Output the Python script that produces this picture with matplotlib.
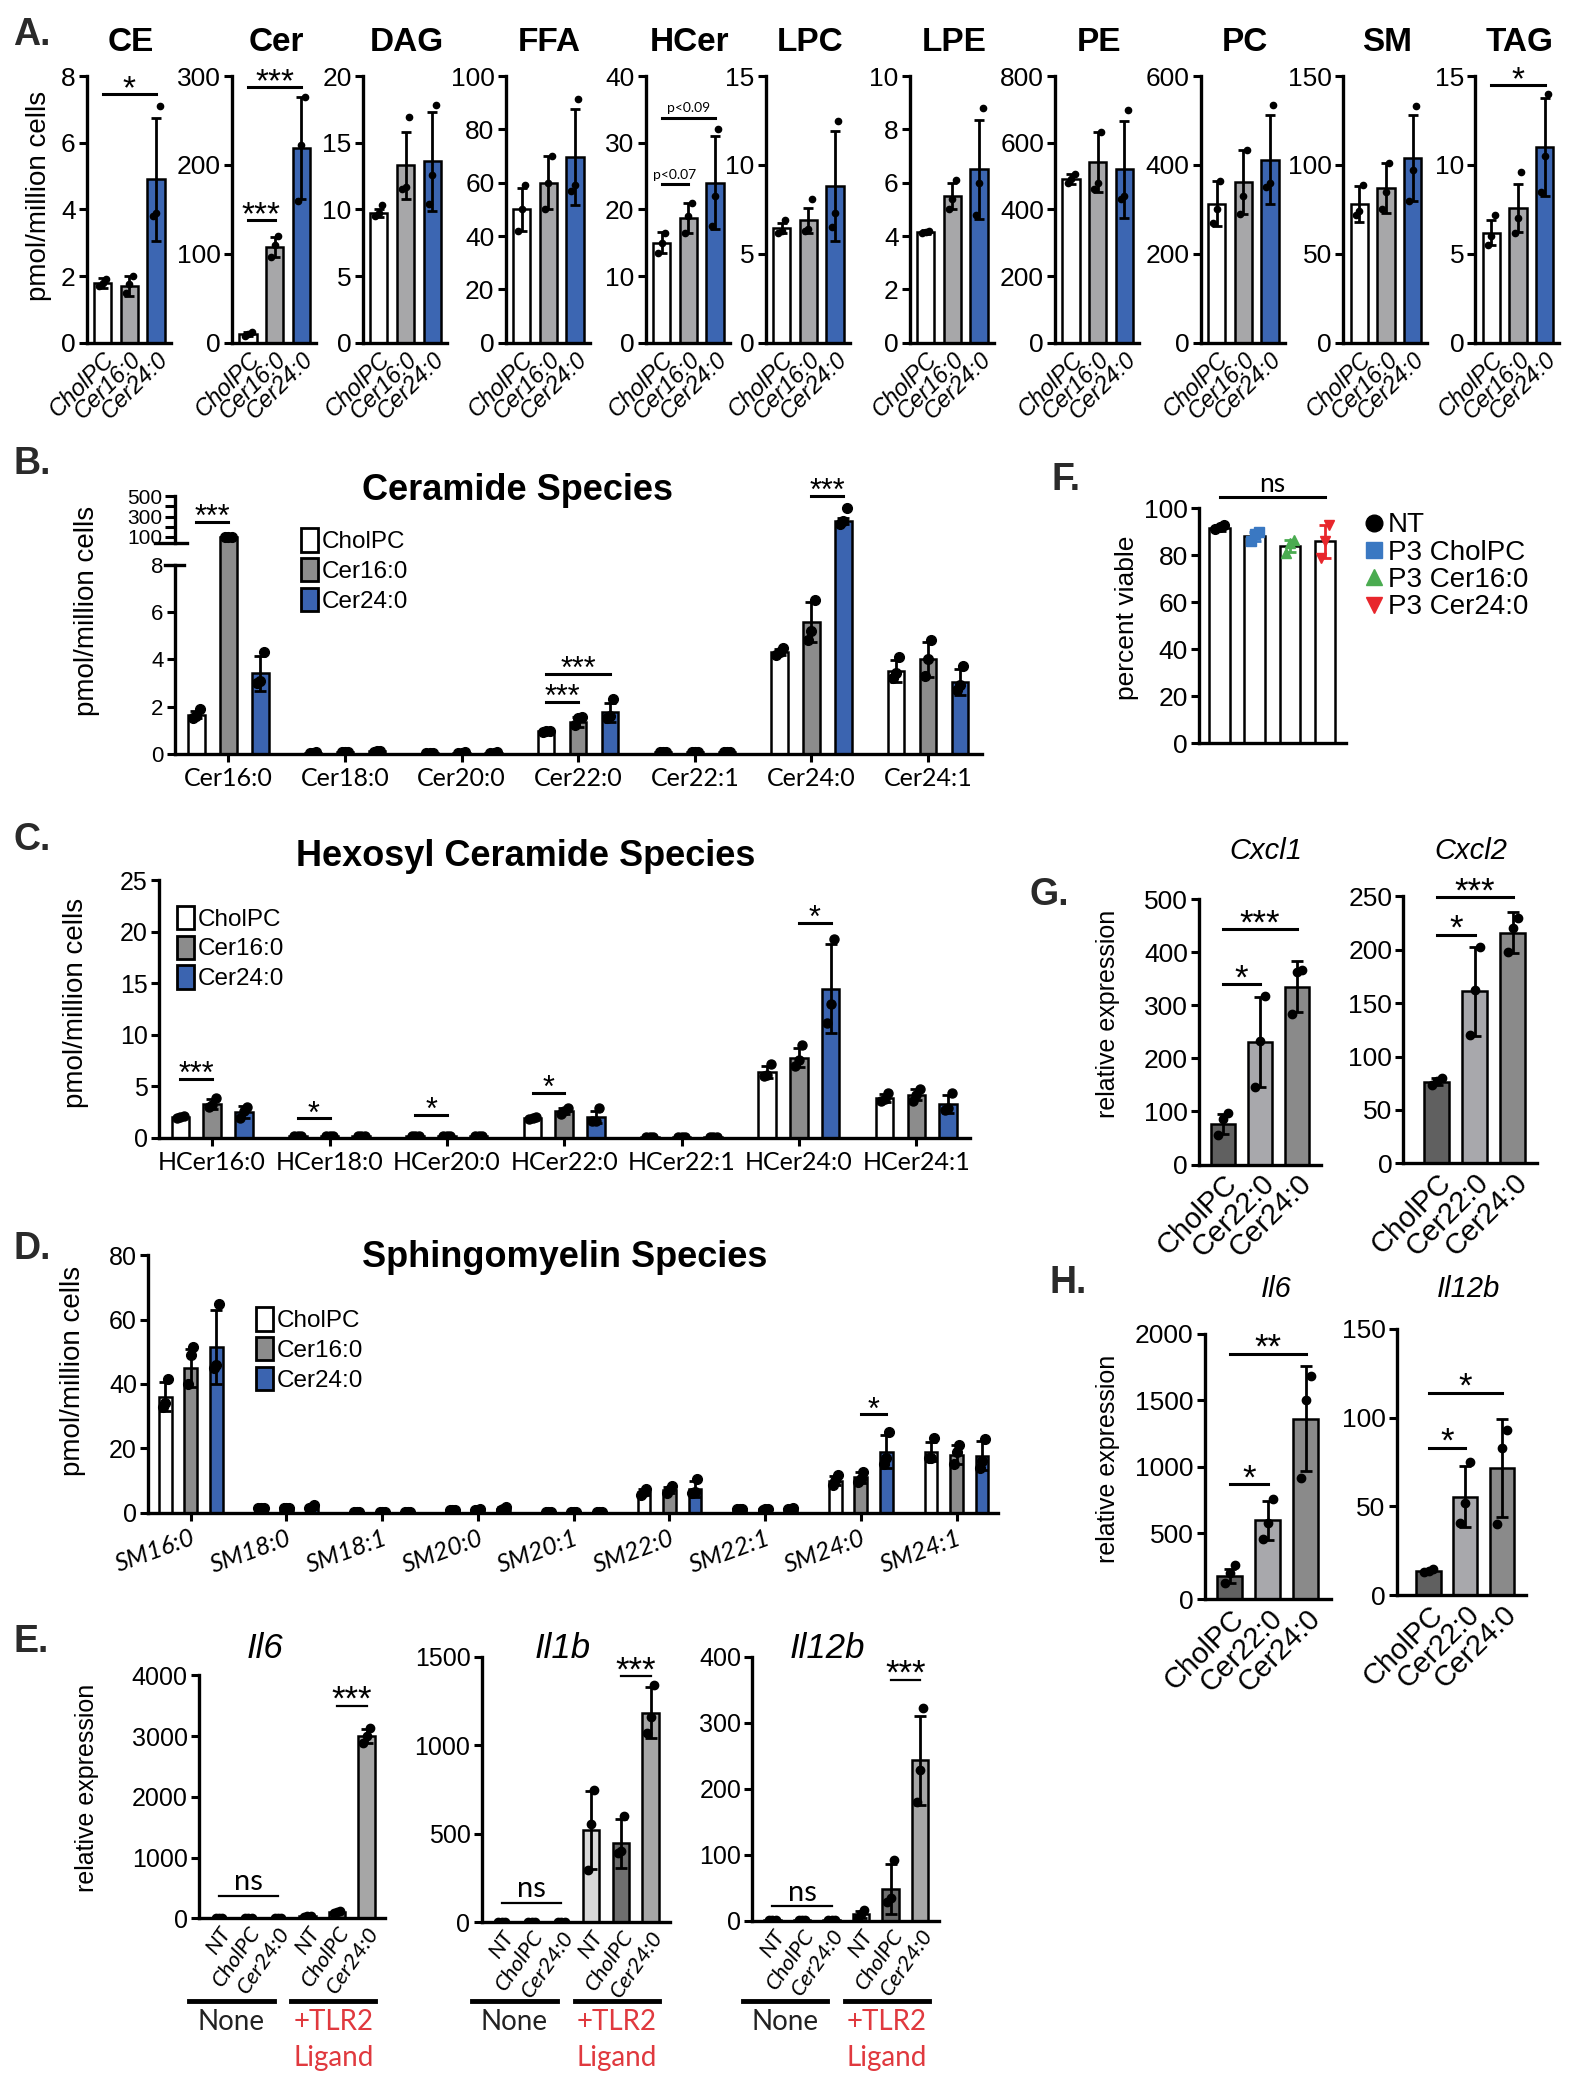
import numpy as np
import matplotlib
matplotlib.use('Agg')
import matplotlib.pyplot as plt
import matplotlib.transforms as mtransforms
from matplotlib.patches import Patch
from matplotlib.lines import Line2D

ARIAL = ['Liberation Sans', 'DejaVu Sans']
CALIBRI = ['Lato', 'DejaVu Sans']
plt.rcParams['font.family'] = ARIAL

groups = ['CholPC', 'Cer16:0', 'Cer24:0']

# ---- A: lipid classes (pmol/million cells) ----
A_classes = ['CE', 'Cer', 'DAG', 'FFA', 'HCer', 'LPC', 'LPE', 'PE', 'PC', 'SM', 'TAG']
A_ymax = [8, 300, 20, 100, 40, 15, 10, 800, 600, 150, 15]
A_ystep = [2, 100, 5, 20, 10, 5, 2, 200, 200, 50, 5]
A_mean = [[1.8, 1.7, 4.9], [10, 108, 219], [9.7, 13.3, 13.6], [50, 60, 69.5],
          [15, 18.7, 24], [6.45, 6.9, 8.8], [4.15, 5.5, 6.5], [490, 543, 520],
          [313, 361, 412], [78, 87, 104], [6.2, 7.6, 11]]
A_sd = [[0.15, 0.3, 1.85], [2, 11, 57], [0.3, 2.5, 3.7], [8, 10, 18],
        [1.6, 2.2, 7.0], [0.3, 0.7, 3.1], [0.08, 0.5, 1.85], [15, 90, 145],
        [50, 72, 100], [10, 14, 24], [0.7, 1.35, 2.75]]
A_pts = [
    [[1.7, 1.8, 1.9], [1.5, 1.75, 2.0], [3.8, 3.9, 7.1]],
    [[8, 10, 12], [96, 110, 120], [160, 222, 276]],
    [[9.5, 9.7, 10.3], [11.5, 11.7, 16.9], [10.4, 12.6, 17.8]],
    [[42, 50, 59], [50, 60, 70], [57, 59, 91.5]],
    [[13.5, 15, 16.5], [16.5, 19, 21], [17.5, 22, 32]],
    [[6.2, 6.3, 6.9], [6.3, 6.4, 8.1], [6.5, 7.3, 12.5]],
    [[4.1, 4.15, 4.2], [5.0, 5.4, 6.1], [4.8, 6.0, 8.8]],
    [[480, 490, 505], [460, 480, 633], [430, 440, 698]],
    [[270, 300, 365], [290, 330, 433], [350, 360, 534]],
    [[72, 74, 89], [75, 85, 101], [80, 97, 133]],
    [[5.5, 6.0, 7.2], [6.2, 7.0, 9.6], [8.5, 10.5, 14.0]],
]
A_sig = [(0, 0, 2, 7.45, '*'), (1, 0, 1, 138, '***'), (1, 0, 2, 288, '***'),
         (4, 0, 1, 23.75, 'p<0.07'), (4, 0, 2, 33.75, 'p<0.09'), (10, 0, 2, 14.5, '*')]

# ---- B: ceramide species ----
B_species = ['Cer16:0', 'Cer18:0', 'Cer20:0', 'Cer22:0', 'Cer22:1', 'Cer24:0', 'Cer24:1']
B_mean = [[1.65, 100, 3.4], [0.05, 0.07, 0.1], [0.03, 0.05, 0.05], [0.95, 1.35, 1.75],
          [0.07, 0.08, 0.08], [4.3, 5.6, 255], [3.5, 4.0, 3.05]]
B_sd = [[0.15, 5, 0.75], [0.02, 0.02, 0.03], [0.01, 0.01, 0.01], [0.03, 0.2, 0.4],
        [0.02, 0.02, 0.02], [0.12, 0.85, 30], [0.45, 0.75, 0.55]]
B_pts = [
    [[1.5, 1.6, 1.9], [98, 100, 102], [3.0, 3.1, 4.3]],
    [[0.05, 0.05, 0.06], [0.06, 0.07, 0.08], [0.08, 0.1, 0.12]],
    [[0.03, 0.03, 0.04], [0.04, 0.05, 0.06], [0.04, 0.05, 0.06]],
    [[0.93, 0.95, 0.97], [1.2, 1.5, 1.55], [1.5, 1.6, 2.3]],
    [[0.06, 0.07, 0.08], [0.07, 0.08, 0.09], [0.07, 0.08, 0.09]],
    [[4.2, 4.3, 4.5], [4.8, 5.2, 6.5], [230, 260, 385]],
    [[3.2, 3.4, 4.1], [3.3, 4.0, 4.8], [2.7, 2.9, 3.7]],
]
B_sig = [(0, 0, 1, 250, '***'), (3, 0, 1, 2.2, '***'), (3, 0, 2, 3.37, '***'), (5, 1, 2, 500, '***')]

# ---- C: hexosyl ceramide species ----
C_species = ['HCer16:0', 'HCer18:0', 'HCer20:0', 'HCer22:0', 'HCer22:1', 'HCer24:0', 'HCer24:1']
C_mean = [[2.0, 3.3, 2.5], [0.15, 0.15, 0.15], [0.15, 0.2, 0.2], [1.9, 2.6, 2.0],
          [0.1, 0.1, 0.1], [6.4, 7.8, 14.5], [3.9, 4.2, 3.3]]
C_sd = [[0.15, 0.45, 0.6], [0.02, 0.02, 0.02], [0.02, 0.02, 0.02], [0.15, 0.3, 0.6],
        [0.02, 0.02, 0.02], [0.55, 0.9, 4.3], [0.4, 0.5, 0.9]]
C_pts = [
    [[1.9, 2.0, 2.1], [3.0, 3.2, 3.9], [1.9, 2.6, 3.0]],
    [[0.15, 0.15, 0.15], [0.15, 0.15, 0.15], [0.15, 0.15, 0.15]],
    [[0.15, 0.15, 0.15], [0.2, 0.2, 0.2], [0.2, 0.2, 0.2]],
    [[1.8, 1.9, 2.0], [2.3, 2.6, 2.9], [1.6, 1.6, 2.9]],
    [[0.1, 0.1, 0.1], [0.1, 0.1, 0.1], [0.1, 0.1, 0.1]],
    [[6.0, 6.1, 7.2], [7.0, 7.6, 9.0], [11.2, 13.0, 19.3]],
    [[3.6, 3.8, 4.4], [3.6, 4.2, 4.7], [2.7, 2.9, 4.4]],
]
C_sig = [(0, 0, 1, 5.7, '***'), (1, 0, 1, 1.9, '*'), (2, 0, 1, 2.2, '*'),
         (3, 0, 1, 4.35, '*'), (5, 1, 2, 20.9, '*')]

# ---- D: sphingomyelin species ----
D_species = ['SM16:0', 'SM18:0', 'SM18:1', 'SM20:0', 'SM20:1', 'SM22:0', 'SM22:1', 'SM24:0', 'SM24:1']
D_mean = [[36, 45, 51.5], [1.5, 1.5, 1.8], [0.3, 0.2, 0.3], [0.9, 1.0, 1.3], [0.2, 0.2, 0.2],
          [6.5, 7.0, 7.5], [1.2, 1.1, 1.3], [10, 11, 19], [19, 18, 17.7]]
D_sd = [[4.5, 6, 11.5], [0.2, 0.2, 0.5], [0.05, 0.05, 0.05], [0.2, 0.2, 0.4], [0.05, 0.05, 0.05],
        [1, 1, 2.5], [0.2, 0.2, 0.2], [1.5, 1.8, 5], [3, 3, 4.5]]
D_pts = [
    [[33, 34, 41.5], [40, 49, 51.5], [45, 46, 65]],
    [[1.4, 1.5, 1.6], [1.4, 1.5, 1.6], [1.5, 1.8, 2.3]],
    [[0.3, 0.3, 0.3], [0.2, 0.2, 0.2], [0.3, 0.3, 0.3]],
    [[0.8, 0.9, 1.0], [0.9, 1.0, 1.1], [1.0, 1.2, 1.7]],
    [[0.2, 0.2, 0.2], [0.2, 0.2, 0.2], [0.2, 0.2, 0.2]],
    [[5.5, 6.5, 7.5], [6, 7, 8.3], [6, 6.5, 10.5]],
    [[1.1, 1.2, 1.3], [1.0, 1.1, 1.2], [1.2, 1.3, 1.5]],
    [[8.5, 10, 11.8], [9.5, 10.5, 12.8], [15, 17, 25]],
    [[17, 17, 23.3], [15, 19, 21], [14, 16, 23]],
]
D_sig = [(7, 1, 2, 30.6, '*')]

# ---- E: cytokine expression +/- TLR2 ligand ----
E_genes = ['Il6', 'Il1b', 'Il12b']
E_ticks = ['NT', 'CholPC', 'Cer24:0', 'NT', 'CholPC', 'Cer24:0']
E_ymax = [4000, 1500, 400]
E_ystep = [1000, 500, 100]
E_mean = [[1, 1, 1, 30, 100, 3000],
          [1, 1, 1, 520, 445, 1185],
          [1, 1, 1, 10, 48, 243]]
E_sd = [[1, 1, 1, 12, 20, 110],
        [1, 1, 1, 220, 140, 145],
        [0.5, 0.5, 0.5, 5, 38, 68]]
E_pts = [
    [[1, 1, 1], [1, 1, 1], [1, 1, 1], [20, 30, 45], [90, 100, 115], [2880, 3000, 3130]],
    [[1, 1, 1], [1, 1, 1], [1, 1, 1], [294, 558, 746], [392, 401, 600], [1070, 1161, 1338]],
    [[1, 1, 1], [1, 1, 1], [1, 1, 1], [5, 10, 17], [29, 34, 92], [180, 228, 323]],
]
E_sig = [[(0, 2, 374, 'ns'), (4, 5, 3500, '***')],
         [(0, 2, 109, 'ns'), (4, 5, 1390, '***')],
         [(0, 2, 22, 'ns'), (4, 5, 365, '***')]]

# ---- F: viability ----
F_labels = ['NT', 'P3 CholPC', 'P3 Cer16:0', 'P3 Cer24:0']
F_mean = [91.5, 88, 84, 86]
F_sd = [1.2, 2, 2.5, 7]
F_pts = [[91, 92, 93], [86, 89, 90], [81, 85, 86.5], [79, 86, 93]]

# ---- G / H: relative expression ----
GH_ticks = ['CholPC', 'Cer22:0', 'Cer24:0']
G_genes = ['Cxcl1', 'Cxcl2']
G_ymax = [500, 250]
G_ystep = [100, 50]
G_mean = [[77, 231, 335], [76.5, 161, 216]]
G_sd = [[19, 84, 48], [3.5, 42, 19]]
G_pts = [[[56, 85, 97], [147, 233, 318], [283, 363, 366]],
         [[73, 77, 80], [120, 162, 203], [198, 220, 230]]]
G_sig = [[(0, 1, 340, '*'), (0, 2, 443, '***')], [(0, 1, 214, '*'), (0, 2, 249, '***')]]

H_genes = ['Il6', 'Il12b']
H_ymax = [2000, 150]
H_ystep = [500, 50]
H_mean = [[176, 595, 1360], [14, 55.5, 71.5]]
H_sd = [[55, 145, 395], [1, 17, 27.5]]
H_pts = [[[125, 200, 256], [452, 577, 753], [916, 1506, 1686]],
         [[13, 14, 15], [41, 52, 75], [40, 83, 93]]]
H_sig = [[(0, 1, 870, '*'), (0, 2, 1850, '**')], [(0, 1, 83, '*'), (0, 2, 114, '*')]]

# ---------- drawing ----------
W, H = 1183.0, 1567.5
fig = plt.figure(figsize=(15.78, 20.91), dpi=100)


def add_box(x0, y0, x1, y1):
    return fig.add_axes([x0 / W, 1 - y1 / H, (x1 - x0) / W, (y1 - y0) / H])


def ftext(x, y, s, **kw):
    kw.setdefault('ha', 'center')
    kw.setdefault('va', 'center')
    fig.text(x / W, 1 - y / H, s, **kw)


def style(ax, ysize=18):
    for s in ['top', 'right']:
        ax.spines[s].set_visible(False)
    for s in ['left', 'bottom']:
        ax.spines[s].set_linewidth(2.4)
    ax.tick_params(axis='y', width=2.2, length=6, labelsize=ysize, pad=2)
    ax.tick_params(axis='x', length=0)


def draw(ax, x, mean, sd, pts, colors, width, ecolors=None, markers=None, ms=5.5, cap=4):
    n = len(mean)
    ecolors = ecolors or ['black'] * n
    markers = markers or ['o'] * n
    ax.bar(x, mean, width, color=colors, edgecolor='black', linewidth=1.8, zorder=2)
    for xi, m, s, p, ec, mk in zip(x, mean, sd, pts, ecolors, markers):
        ax.errorbar([xi], [m], yerr=[s], fmt='none', ecolor=ec, elinewidth=2,
                    capsize=cap, capthick=2, zorder=3)
        off = np.linspace(-0.2, 0.2, len(p)) * width
        ax.plot(xi + off, p, linestyle='none', marker=mk, color=ec, ms=ms, zorder=4)


def sig(ax, x0, x1, y, txt, size=24, lw=2.2):
    ax.plot([x0, x1], [y, y], color='black', lw=lw, clip_on=False, zorder=6)
    star = '*' in txt
    fam = ARIAL if star else CALIBRI
    dy = -3 if star else 4
    ax.annotate(txt, ((x0 + x1) / 2, y), xytext=(0, dy), textcoords='offset points',
                ha='center', va='baseline', fontsize=size, family=fam, annotation_clip=False)


def letter(x, y, s):
    ftext(x, y, s, fontsize=27, fontweight='bold', color='#2a2a2a', ha='left')


# A
A_left = [65, 174, 272, 379, 484, 574, 682, 791, 900, 1007, 1106]
A_colors = ['white', '#a7a7a9', '#3c66b2']
xa = np.arange(3)
axesA = []
for k, name in enumerate(A_classes):
    ax = add_box(A_left[k], 57, A_left[k] + 63, 257)
    draw(ax, xa, A_mean[k], A_sd[k], A_pts[k], A_colors, 0.65, ms=4.5, cap=3.5)
    ax.set_xlim(-0.6, 2.55)
    ax.set_ylim(0, A_ymax[k])
    ax.set_yticks(np.arange(0, A_ymax[k] + 1, A_ystep[k]))
    style(ax, 19)
    ax.set_xticks(xa)
    ax.set_xticklabels(groups, rotation=45, ha='right', rotation_mode='anchor',
                       fontsize=17, style='italic')
    ftext(A_left[k] + 33, 32, name, fontsize=24, fontweight='bold')
    axesA.append(ax)
for k, i, j, y, txt in A_sig:
    sig(axesA[k], i, j, y, txt, size=10 if txt.startswith('p') else 24)
ftext(29, 147, 'pmol/million cells', rotation=90, fontsize=20)
letter(10, 26, 'A.')

GRP_COLORS = ['white', '#8c8c8c', '#3b64b0']


def grouped(ax, species, mean, sd, pts, offs, width, ms, floor=None):
    x = np.arange(len(species))
    for g in range(3):
        keep = [c for c in range(len(species)) if floor is None or mean[c][g] > floor]
        if not keep:
            continue
        draw(ax, x[keep] + offs[g], [mean[c][g] for c in keep], [sd[c][g] for c in keep],
             [pts[c][g] for c in keep], [GRP_COLORS[g]] * len(keep), width, ms=ms, cap=4)
    return x


def legend3(x, y):
    handles = [Patch(facecolor=c, edgecolor='black', linewidth=2) for c in GRP_COLORS]
    fig.legend(handles, groups, loc='upper left', bbox_to_anchor=(x / W, 1 - y / H),
               frameon=False, fontsize=17.5, handlelength=0.7, handleheight=1.1,
               handletextpad=0.15, labelspacing=0.2, borderpad=0, borderaxespad=0)


# B (broken axis)
offB = [-0.274, 0, 0.274]
axb = add_box(131, 407, 736, 565)
axb2 = add_box(131, 372, 736, 407)
xb = grouped(axb, B_species, B_mean, B_sd, B_pts, offB, 0.14, 7)
grouped(axb2, B_species, B_mean, B_sd, B_pts, offB, 0.14, 7, floor=9)
for ax in (axb, axb2):
    ax.set_xlim(-0.46, 6.46)
    style(ax, 16)
axb.set_ylim(0, 8 * 158 / 141.5)
axb.spines['left'].set_bounds(0, 8)
axb.set_yticks([0, 2, 4, 6, 8])
axb.set_xticks(xb)
axb.set_xticklabels(B_species, fontsize=18, family=CALIBRI)
axb.tick_params(axis='x', length=6, width=2.2)
axb2.set_ylim(41, 500)
axb2.spines['bottom'].set_visible(False)
axb2.set_yticks([100, 200, 300, 400, 500])
axb2.set_yticklabels(['100', '', '300', '', '500'])
axb2.tick_params(axis='y', labelsize=15, length=7)
axb2.set_xticks([])
tr = axb2.get_yaxis_transform()
axb2.plot([-0.025, 0.015], [41, 41], transform=tr, color='black', lw=2.4, clip_on=False)
tr = axb.get_yaxis_transform()
axb.plot([-0.012, 0.012], [8, 8], transform=tr, color='black', lw=2.4, clip_on=False)
for c, i, j, y, txt in B_sig:
    ax = axb2 if y > 9 else axb
    sig(ax, c + offB[i], c + offB[j], y, txt, size=22)
legend3(226, 396)
ftext(388, 368, 'Ceramide Species', fontsize=26, fontweight='bold')
ftext(65, 458, 'pmol/million cells', rotation=90, fontsize=20)
letter(10, 348, 'B.')

# C
offC = [-0.27, 0, 0.27]
axc = add_box(119, 660, 727, 853)
xc = grouped(axc, C_species, C_mean, C_sd, C_pts, offC, 0.15, 6.5)
axc.set_xlim(-0.455, 6.455)
axc.set_ylim(0, 25)
axc.set_yticks(np.arange(0, 26, 5))
style(axc, 18)
axc.set_xticks(xc)
axc.set_xticklabels(C_species, fontsize=18, family=CALIBRI)
axc.tick_params(axis='x', length=6, width=2.2)
for c, i, j, y, txt in C_sig:
    sig(axc, c + offC[i], c + offC[j], y, txt, size=22)
legend3(133, 679)
ftext(394, 642, 'Hexosyl Ceramide Species', fontsize=26, fontweight='bold')
ftext(57, 752, 'pmol/million cells', rotation=90, fontsize=20)
letter(10, 630, 'C.')

# D
offD = [-0.266, 0, 0.266]
axd = add_box(111, 941, 748, 1134)
xd = grouped(axd, D_species, D_mean, D_sd, D_pts, offD, 0.133, 7)
axd.set_xlim(-0.446, 8.43)
axd.set_ylim(0, 80)
axd.set_yticks(np.arange(0, 81, 20))
style(axd, 18)
axd.set_xticks(xd)
axd.set_xticklabels(D_species, fontsize=18, family=CALIBRI, style='italic',
                    rotation=20, ha='right', rotation_mode='anchor')
axd.tick_params(axis='x', length=6, width=2.2)
for c, i, j, y, txt in D_sig:
    sig(axd, c + offD[i], c + offD[j], y, txt, size=22)
legend3(192, 980)
ftext(423, 943, 'Sphingomyelin Species', fontsize=26, fontweight='bold')
ftext(55, 1028, 'pmol/million cells', rotation=90, fontsize=20)
letter(10, 936, 'D.')

# E
E_boxes = [(149, 1256, 289, 1438), (361, 1242, 502, 1441), (564, 1242, 704, 1440)]
E_title_x = [199, 422, 620]
E_colors = ['#d9d9d9', '#6e6e6e', '#a6a6a6', '#d9d9d9', '#6e6e6e', '#a6a6a6']
xe = np.arange(6)
for k, gene in enumerate(E_genes):
    ax = add_box(*E_boxes[k])
    draw(ax, xe, E_mean[k], E_sd[k], E_pts[k], E_colors, 0.55, ms=6, cap=4)
    ax.set_xlim(-0.68, 5.64)
    ax.set_ylim(0, E_ymax[k])
    ax.set_yticks(np.arange(0, E_ymax[k] + 1, E_ystep[k]))
    style(ax, 18)
    ax.set_xticks(xe)
    ax.set_xticklabels(E_ticks, rotation=55, ha='right', rotation_mode='anchor',
                       fontsize=16, style='italic', family=CALIBRI)
    for i, j, y, txt in E_sig[k]:
        sig(ax, i, j, y, txt, size=21 if txt == 'ns' else 25, lw=1.6)
    ftext(E_title_x[k], 1236, gene, fontsize=25, style='italic')
    trans = mtransforms.blended_transform_factory(ax.transData, fig.transFigure)
    yl = 1 - 1500 / H
    ax.plot([-1.0, 1.85], [yl, yl], transform=trans, color='black', lw=3.5, clip_on=False)
    ax.plot([2.45, 5.3], [yl, yl], transform=trans, color='black', lw=3.5, clip_on=False)
    ax.text(0.42, 1 - 1516 / H, 'None', transform=trans, ha='center', va='center',
            fontsize=20, family=CALIBRI, color='#222222')
    ax.text(3.87, 1 - 1516 / H, '+TLR2', transform=trans, ha='center', va='center',
            fontsize=20, family=CALIBRI, color='#e0393e')
    ax.text(3.87, 1 - 1543 / H, 'Ligand', transform=trans, ha='center', va='center',
            fontsize=20, family=CALIBRI, color='#e0393e')
ftext(65, 1340, 'relative expression', rotation=90, fontsize=18)
letter(10, 1231, 'E.')

# F
axf = add_box(899, 381, 1009, 557)
F_colors = ['black', '#3a78c2', '#4aab50', '#e8262c']
F_markers = ['o', 's', '^', 'v']
xf = np.arange(4)
draw(axf, xf, F_mean, F_sd, F_pts, ['white'] * 4, 0.58, ecolors=F_colors,
     markers=F_markers, ms=7, cap=4)
axf.set_xlim(-0.58, 3.6)
axf.set_ylim(0, 100)
axf.set_yticks(np.arange(0, 101, 20))
style(axf, 19)
axf.set_xticks([])
sig(axf, 0, 3, 104.7, 'ns', size=19)
handles = [Line2D([], [], marker=m, color=c, linestyle='none', markersize=12)
           for m, c in zip(F_markers, F_colors)]
fig.legend(handles, F_labels, loc='upper left', bbox_to_anchor=(1024 / W, 1 - 384 / H),
           frameon=False, fontsize=20, handlelength=0.6, handletextpad=0.2,
           labelspacing=0.05, borderpad=0, borderaxespad=0)
ftext(845, 463, 'percent viable', rotation=90, fontsize=19)
letter(788, 360, 'F.')

# G and H
GH_colors = ['#606060', '#a8a8ac', '#8a8a8a']
xg = np.arange(3)


def expr_panel(box, xlim, ymax, ystep, mean, sd, pts, sigs, title, tx, ty):
    ax = add_box(*box)
    draw(ax, xg, mean, sd, pts, GH_colors, 0.66, ms=6, cap=4.5)
    ax.set_xlim(*xlim)
    ax.set_ylim(0, ymax)
    ax.set_yticks(np.arange(0, ymax + 1, ystep))
    style(ax, 19)
    ax.set_xticks(xg)
    ax.set_xticklabels(GH_ticks, rotation=45, ha='right', rotation_mode='anchor', fontsize=21)
    for i, j, y, txt in sigs:
        sig(ax, i, j, y, txt, size=25)
    ftext(tx, ty, title, fontsize=21, style='italic')


G_boxes = [(899, 674, 990, 873), (1052, 672, 1152, 872)]
G_xlim = [(-0.65, 2.65), (-0.88, 2.63)]
for k in range(2):
    expr_panel(G_boxes[k], G_xlim[k], G_ymax[k], G_ystep[k], G_mean[k], G_sd[k], G_pts[k],
               G_sig[k], G_genes[k], [949, 1103][k], 638)
ftext(831, 760, 'relative expression', rotation=90, fontsize=18)
letter(772, 671, 'G.')

H_boxes = [(903, 1000, 998, 1199), (1047, 996, 1144, 1196)]
H_xlim = [(-0.67, 2.67), (-0.87, 2.65)]
for k in range(2):
    expr_panel(H_boxes[k], H_xlim[k], H_ymax[k], H_ystep[k], H_mean[k], H_sd[k], H_pts[k],
               H_sig[k], H_genes[k], [957, 1101][k], 966)
ftext(831, 1094, 'relative expression', rotation=90, fontsize=18)
letter(787, 962, 'H.')

fig.savefig('out.png', dpi=100, facecolor='white')
